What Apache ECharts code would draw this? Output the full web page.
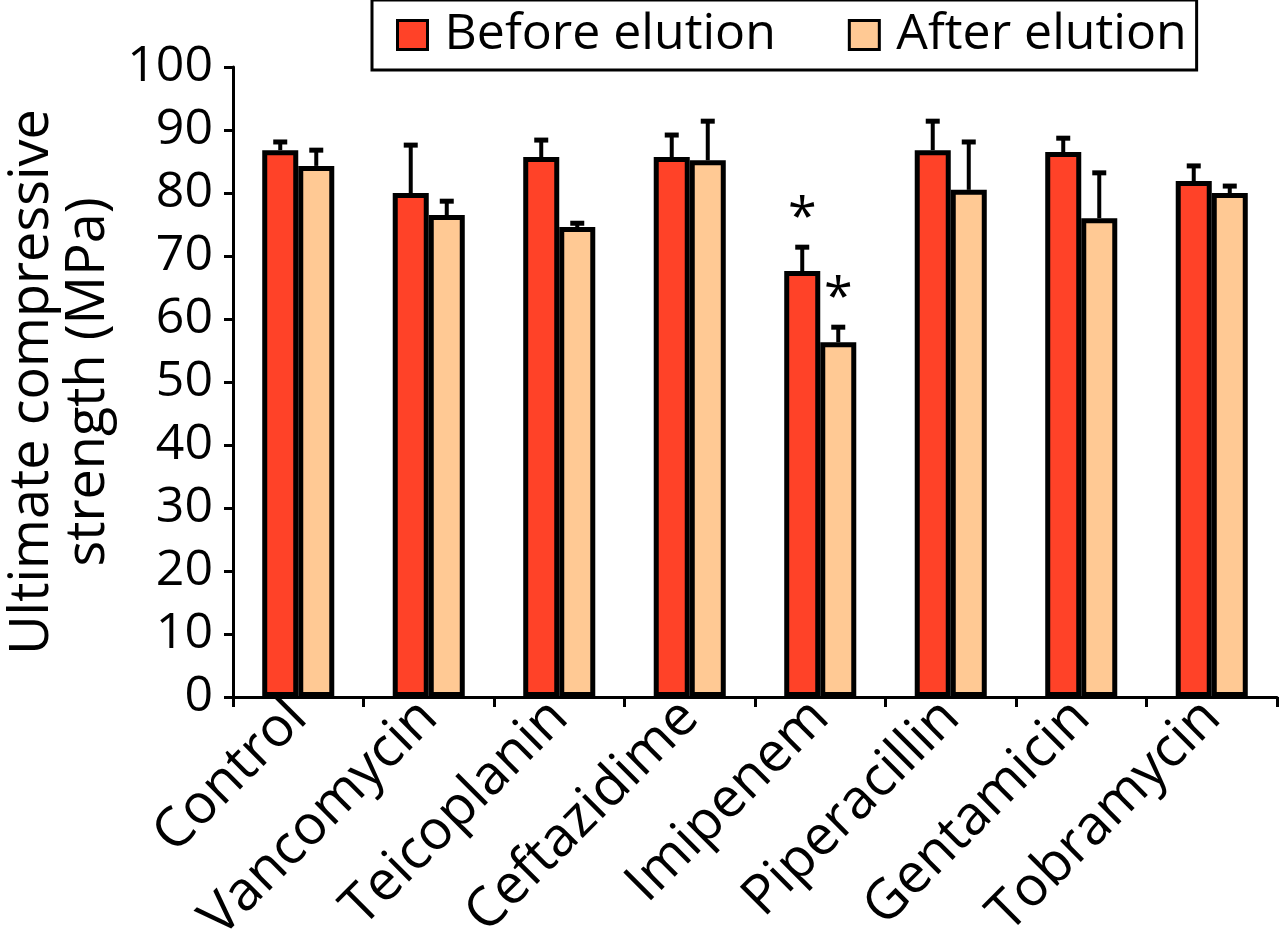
<!DOCTYPE html>
<html>
<head>
<meta charset="utf-8">
<script src="https://cdn.jsdelivr.net/npm/echarts@6/dist/echarts.min.js"></script>
<style>
  html, body { margin: 0; padding: 0; background: #fff; }
  #container { width: 1280px; height: 938px; }
</style>
</head>
<body>
<div id="container"></div>
<script>
var categories = ['Control', 'Vancomycin', 'Teicoplanin', 'Ceftazidime', 'Imipenem', 'Piperacillin', 'Gentamicin', 'Tobramycin'];
var beforeValues = [86.8, 80.0, 85.7, 85.7, 67.6, 86.8, 86.5, 81.9];
var beforeErrors = [1.3, 7.6, 2.7, 3.5, 3.8, 4.6, 2.2, 2.4];
var afterValues = [84.3, 76.5, 74.6, 85.2, 56.3, 80.5, 76.0, 80.0];
var afterErrors = [2.5, 2.2, 0.6, 6.2, 2.4, 7.6, 7.2, 1.1];
var beforeMarks = ['', '', '', '', '*', '', '', ''];
var afterMarks = ['', '', '', '', '*', '', '', ''];
var yTicks = [0, 10, 20, 30, 40, 50, 60, 70, 80, 90, 100];

var FONT = 'Open Sans';
var BAR_FRAC = 0.276;

window.onload = function () {
    var dom = document.getElementById('container');
    var myChart = echarts.init(dom, null, { renderer: 'canvas' });

    function errorSeries(values, errors, marks, side) {
        var data = values.map(function (v, i) { return [i, v, v + errors[i], marks[i]]; });
        return {
            type: 'custom',
            data: data,
            z: 3,
            silent: true,
            renderItem: function (params, api) {
                var band = api.size([1, 0])[0];
                var off = side * band * BAR_FRAC / 2;
                var base = api.coord([api.value(0), api.value(1)]);
                var top = api.coord([api.value(0), api.value(2)]);
                var x = base[0] + off;
                var children = [
                    { type: 'line', shape: { x1: x, y1: base[1], x2: x, y2: top[1] },
                      style: { stroke: '#000', lineWidth: 4 } },
                    { type: 'line', shape: { x1: x - 7, y1: top[1], x2: x + 7, y2: top[1] },
                      style: { stroke: '#000', lineWidth: 5 } }
                ];
                var mark = data[params.dataIndex][3];
                if (mark) {
                    children.push({ type: 'text', x: x, y: top[1] - 28,
                        style: { text: mark, fontSize: 52, fontFamily: FONT, fill: '#000',
                                 align: 'center', verticalAlign: 'middle' } });
                }
                return { type: 'group', children: children };
            }
        };
    }

    var option = {
        animation: false,
        backgroundColor: '#fff',
        textStyle: { fontFamily: FONT },
        legend: {
            left: 372,
            top: 0,
            padding: [10, 10, 10, 24],
            itemGap: 72,
            itemWidth: 30,
            itemHeight: 29,
            icon: 'rect',
            borderColor: '#000',
            borderWidth: 3,
            itemStyle: { borderColor: '#000', borderWidth: 3 },
            data: ['Before elution', 'After elution'],
            textStyle: { fontSize: 50, color: '#000', fontFamily: FONT, padding: [0, 0, 0, 12] }
        },
        grid: { left: 233, right: 3, top: 67, bottom: 241, containLabel: false, outerBoundsMode: 'none' },
        xAxis: {
            type: 'category',
            data: categories,
            axisLine: { lineStyle: { color: '#000', width: 3 } },
            axisTick: { show: true, length: 10, lineStyle: { color: '#000', width: 3 } },
            axisLabel: { rotate: 45, fontSize: 55, color: '#000', fontFamily: FONT, margin: 12, interval: 0 }
        },
        yAxis: {
            type: 'value',
            min: 0,
            max: 100,
            interval: 10,
            name: 'Ultimate compressive\nstrength (MPa)',
            nameLocation: 'middle',
            nameRotate: 90,
            nameGap: 110,
            nameTextStyle: { fontSize: 54, color: '#000', fontFamily: FONT, lineHeight: 56 },
            splitLine: { show: false },
            axisLine: { show: true, lineStyle: { color: '#000', width: 3 } },
            axisTick: { show: true, length: 9, lineStyle: { color: '#000', width: 3 } },
            axisLabel: {
                fontSize: 50, color: '#000', fontFamily: FONT, margin: 20,
                formatter: function (v) { return yTicks.indexOf(v) >= 0 ? String(v) : ''; }
            }
        },
        series: [
            {
                name: 'Before elution',
                type: 'bar',
                data: beforeValues,
                barWidth: (BAR_FRAC * 100) + '%',
                barGap: '0%',
                itemStyle: { color: '#FF4228', borderColor: '#000', borderWidth: 5 },
                z: 2
            },
            {
                name: 'After elution',
                type: 'bar',
                data: afterValues,
                barWidth: (BAR_FRAC * 100) + '%',
                barGap: '0%',
                itemStyle: { color: '#FFC994', borderColor: '#000', borderWidth: 5 },
                z: 2
            },
            errorSeries(beforeValues, beforeErrors, beforeMarks, -1),
            errorSeries(afterValues, afterErrors, afterMarks, 1)
        ]
    };
    myChart.setOption(option);
};
</script>
</body>
</html>
